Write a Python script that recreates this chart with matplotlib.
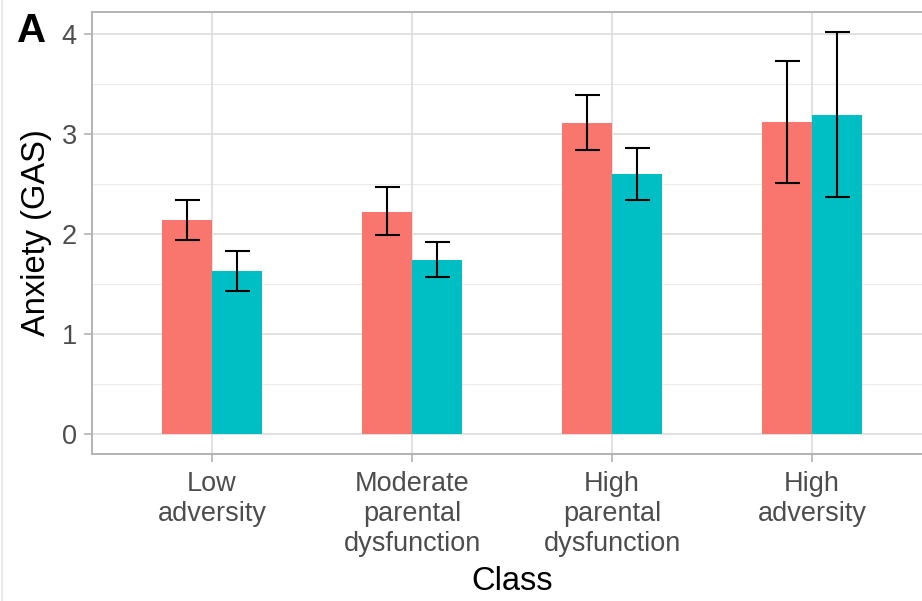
import matplotlib
matplotlib.use("Agg")
import matplotlib.pyplot as plt
from matplotlib.lines import Line2D
import numpy as np

plt.rcParams['font.family'] = ['Liberation Sans', 'DejaVu Sans']

classes = ["Low\nadversity", "Moderate\nparental\ndysfunction",
           "High\nparental\ndysfunction", "High\nadversity"]
group_a_mean = [2.145, 2.225, 3.11, 3.12]
group_a_low = [1.945, 1.99, 2.84, 2.51]
group_a_high = [2.34, 2.467, 3.39, 3.73]
group_b_mean = [1.63, 1.745, 2.60, 3.19]
group_b_low = [1.43, 1.57, 2.34, 2.374]
group_b_high = [1.83, 1.925, 2.86, 4.02]
y_ticks = [0, 1, 2, 3, 4]

W, H = 922, 601
fig = plt.figure(figsize=(W / 100, H / 100), dpi=100)
# panel spans x 92..932 px, y 12..454 px
left, right, top, bottom = 92, 932, 12, 454
ax = fig.add_axes([left / W, 1 - bottom / H, (right - left) / W, (bottom - top) / H])

x = np.arange(1, len(classes) + 1)
bw = 0.25
grey87 = "#DEDEDE"
ax.set_xlim(0.4, 4.6)
ax.set_ylim(-0.2, 4.22)

# grid
for yv in np.arange(0.5, 4.1, 1.0):
    ax.axhline(yv, color="#EBEBEB", lw=0.8, zorder=0)
for yv in y_ticks:
    ax.axhline(yv, color=grey87, lw=1.3, zorder=0)
for xv in x:
    ax.axvline(xv, color=grey87, lw=1.3, zorder=0)

ax.bar(x - bw / 2, group_a_mean, width=bw, color="#F8766D", zorder=2)
ax.bar(x + bw / 2, group_b_mean, width=bw, color="#00BFC4", zorder=2)

for xs, m, lo, hi in [(x - bw / 2, group_a_mean, group_a_low, group_a_high),
                      (x + bw / 2, group_b_mean, group_b_low, group_b_high)]:
    m = np.array(m)
    yerr = np.vstack([m - np.array(lo), np.array(hi) - m])
    ax.errorbar(xs, m, yerr=yerr, fmt="none", ecolor="black", elinewidth=1.5,
                capsize=9, capthick=1.5, zorder=3)

ax.set_xticks(x)
ax.set_xticklabels(classes, fontsize=19.5, color="#4D4D4D", linespacing=1.2)
ax.set_yticks(y_ticks)
ax.set_yticklabels([str(v) for v in y_ticks], fontsize=19.5, color="#4D4D4D")
ax.tick_params(axis="both", color="#B3B3B3", length=6, width=1.2)
ax.tick_params(axis="x", pad=6)
ax.tick_params(axis="y", pad=5)

for s in ax.spines.values():
    s.set_color("#B3B3B3")
    s.set_linewidth(1.4)

ax.set_xlabel("Class", fontsize=23.5, color="black", labelpad=7)
ax.set_ylabel("Anxiety (GAS)", fontsize=23.5, color="black", labelpad=7)

fig.text(17 / W, 1 - 12 / H, "A", fontsize=29, fontweight="bold", va="top", ha="left")
fig.add_artist(Line2D([1.5 / W, 1.5 / W], [0, 1], color="#E6E6E6", lw=1.2,
                      transform=fig.transFigure))

fig.savefig("out.png", dpi=100)
